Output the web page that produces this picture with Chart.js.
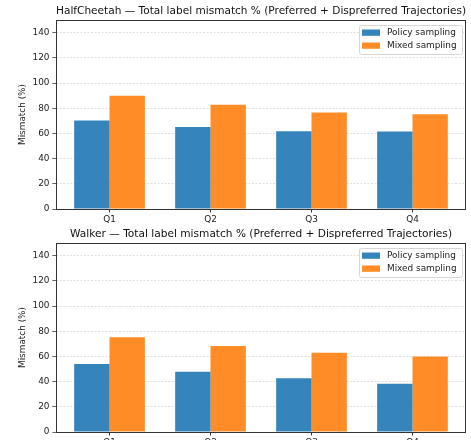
<!DOCTYPE html>
<html>
<head>
<meta charset="utf-8">
<script src="https://cdn.jsdelivr.net/npm/chart.js@4.4.1/dist/chart.umd.min.js"></script>
<style>
  body { margin: 0; width: 471px; height: 440px; overflow: hidden; background: #fff; position: relative; }
  canvas { position: absolute; left: 0; }
  #topChart { top: 0; }
  #bottomChart { top: 223px; }
</style>
</head>
<body>
<canvas id="topChart" width="471" height="230"></canvas>
<canvas id="bottomChart" width="471" height="230"></canvas>
<script>
// values
const quarterLabels = ["Q1", "Q2", "Q3", "Q4"];
const seriesNames = ["Policy sampling", "Mixed sampling"];
const cheetahPolicy = [70.2, 65.0, 61.8, 61.5];
const cheetahMixed = [89.9, 82.7, 76.6, 75.3];
const walkerPolicy = [53.9, 47.8, 42.7, 38.2];
const walkerMixed = [75.2, 68.3, 63.0, 60.0];
const yTicks = [0, 20, 40, 60, 80, 100, 120, 140];
const yMax = 150;

const fontFamily = '"DejaVu Sans", sans-serif';
const blue = 'rgba(31, 119, 180, 0.9)';
const orange = 'rgba(255, 127, 14, 0.9)';

// frame around the plot area, like matplotlib spines
const frame = {
    id: 'frame',
    afterDatasetsDraw(chart) {
        const { ctx, chartArea } = chart;
        ctx.save();
        ctx.strokeStyle = '#333';
        ctx.lineWidth = 1;
        ctx.strokeRect(Math.round(chartArea.left) + 0.5, Math.round(chartArea.top) + 0.5,
            Math.round(chartArea.right - chartArea.left) - 1, Math.round(chartArea.bottom - chartArea.top));
        ctx.restore();
    }
};

// legend box in the upper right corner of the plot area
const boxLegend = {
    id: 'boxLegend',
    afterDraw(chart) {
        const { ctx, chartArea } = chart;
        const w = 103, h = 29;
        const x = Math.round(chartArea.right - 4 - w);
        const y = Math.round(chartArea.top + 4.5);
        ctx.save();
        ctx.beginPath();
        ctx.roundRect(x + 0.5, y + 0.5, w, h, 2);
        ctx.fillStyle = 'rgba(255,255,255,0.8)';
        ctx.fill();
        ctx.strokeStyle = '#d6d6d6';
        ctx.lineWidth = 1;
        ctx.stroke();
        chart.data.datasets.forEach((ds, i) => {
            const rowY = y + 7.7 + i * 13;
            ctx.fillStyle = ds.backgroundColor;
            ctx.fillRect(x + 3, rowY - 3.2, 18, 6.3);
            ctx.fillStyle = '#222';
            ctx.font = '8.9px ' + fontFamily;
            ctx.textBaseline = 'middle';
            ctx.fillText(ds.label, x + 28, rowY);
        });
        ctx.restore();
    }
};

function makeChart(canvasId, titleText, policyValues, mixedValues) {
    const ctx = document.getElementById(canvasId).getContext('2d');
    return new Chart(ctx, {
        type: 'bar',
        data: {
            datasets: [
                {
                    label: seriesNames[0],
                    data: policyValues.map((v, i) => ({ x: i, y: v })),
                    backgroundColor: blue,
                    borderWidth: 0
                },
                {
                    label: seriesNames[1],
                    data: mixedValues.map((v, i) => ({ x: i, y: v })),
                    backgroundColor: orange,
                    borderWidth: 0
                }
            ]
        },
        plugins: [frame, boxLegend],
        options: {
            responsive: false,
            devicePixelRatio: 1,
            animation: false,
            categoryPercentage: 0.7,
            barPercentage: 1,
            layout: { padding: { left: 17.6, right: 5, top: 0, bottom: 0 } },
            plugins: {
                legend: { display: false },
                tooltip: { enabled: false },
                title: {
                    display: true,
                    fullSize: false, // center the title over the plot area
                    text: titleText,
                    color: '#111',
                    font: { family: fontFamily, size: 10.6, weight: 'normal' },
                    padding: { top: 5.2, bottom: 2.1 }
                }
            },
            scales: {
                x: {
                    type: 'linear',
                    min: -0.53,
                    max: 3.53,
                    offset: false,
                    afterBuildTicks: scale => {
                        scale.ticks = quarterLabels.map((q, i) => ({ value: i }));
                    },
                    afterFit: scale => { scale.height = 21; },
                    ticks: {
                        color: '#222',
                        font: { family: fontFamily, size: 8.9 },
                        padding: 2,
                        maxRotation: 0,
                        callback: value => quarterLabels[value]
                    },
                    grid: {
                        offset: false,
                        drawOnChartArea: false,
                        drawTicks: true,
                        tickLength: 3.5,
                        tickColor: '#333',
                        tickWidth: 1
                    },
                    border: { display: false }
                },
                y: {
                    min: 0,
                    max: yMax,
                    afterBuildTicks: scale => {
                        scale.ticks = yTicks.map(v => ({ value: v }));
                    },
                    afterFit: scale => { scale.width = 38.4; },
                    ticks: {
                        color: '#222',
                        font: { family: fontFamily, size: 8.9 },
                        padding: 3
                    },
                    title: {
                        display: true,
                        text: 'Mismatch (%)',
                        color: '#222',
                        font: { family: fontFamily, size: 8.9 },
                        padding: { top: 0, bottom: 0 }
                    },
                    grid: {
                        color: 'rgba(0,0,0,0.16)',
                        lineWidth: 0.8,
                        drawTicks: true,
                        tickLength: 3.5,
                        tickColor: '#333',
                        tickWidth: 1,
                        tickBorderDash: [1, 0]
                    },
                    border: { display: false, dash: [2, 1.5] }
                }
            }
        }
    });
}

makeChart('topChart', 'HalfCheetah — Total label mismatch % (Preferred + Dispreferred Trajectories)', cheetahPolicy, cheetahMixed);
makeChart('bottomChart', 'Walker — Total label mismatch % (Preferred + Dispreferred Trajectories)', walkerPolicy, walkerMixed);
</script>
</body>
</html>
